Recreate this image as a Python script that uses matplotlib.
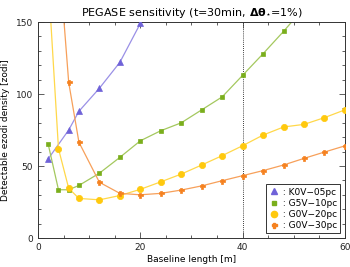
import matplotlib
matplotlib.use("Agg")
import matplotlib.pyplot as plt
from matplotlib.lines import Line2D
from matplotlib.ticker import MultipleLocator

plt.rcParams['font.family'] = ['DejaVu Sans']
plt.rcParams['mathtext.fontset'] = 'dejavusans'

# Data
k0v_x = [2, 6, 8, 12, 16, 20]
k0v_y = [55, 75, 88, 104, 122, 149]

g5v_x = [2, 4, 6, 8, 12, 16, 20, 24, 28, 32, 36, 40, 44, 48, 52]
g5v_y = [65, 33.5, 33.5, 36.5, 45, 56, 67.5, 74.5, 80, 89, 98, 113, 128, 143.5, 160]

g020_x = [2, 4, 6, 8, 12, 16, 20, 24, 28, 32, 36, 40, 44, 48, 52, 56, 60]
g020_y = [180, 62, 34.5, 27.5, 26.5, 29.5, 33.8, 39, 44.4, 50.7, 57.2, 64.1, 71.5, 77.1, 78.9, 83.6, 89]

g030_x = [4, 6, 8, 12, 16, 20, 24, 28, 32, 36, 40, 44, 48, 52, 56, 60]
g030_y = [200, 108, 66.5, 38.7, 31, 30, 31, 33.3, 36.2, 39.8, 43.3, 46.8, 50.7, 55.3, 59.7, 64]

labels = [' : K0V\u221205pc', ' : G5V\u221210pc', ' : G0V\u221220pc', ' : G0V\u221230pc']
colors = ['#6f62d8', '#7aae1c', '#ffc90e', '#f5811f']
line_colors = ['#9a90e6', '#a4c85e', '#ffd84a', '#f7a05a']
markers = ['^', 's', 'o', 'P']
msizes = [4, 3, 4.5, 3.6]

fig = plt.figure(figsize=(3.5, 2.67), dpi=100)
ax = fig.add_axes([0.1086, 0.1086, 0.877, 0.809])

series = [(k0v_x, k0v_y), (g5v_x, g5v_y), (g020_x, g020_y), (g030_x, g030_y)]
for (xs, ys), c, lc, m, ms in zip(series, colors, line_colors, markers, msizes):
    ax.plot(xs, ys, color=lc, lw=0.9, zorder=2)
    ax.plot(xs, ys, ls='none', marker=m, ms=ms, color=c, mec=c, mew=0.5, zorder=3)

ax.axvline(40, color='black', ls=(0, (1, 1.5)), lw=0.6, zorder=1)

ax.set_xlim(0, 60)
ax.set_ylim(0, 150)
ax.xaxis.set_major_locator(MultipleLocator(20))
ax.xaxis.set_minor_locator(MultipleLocator(5))
ax.yaxis.set_major_locator(MultipleLocator(50))
ax.yaxis.set_minor_locator(MultipleLocator(10))
ax.tick_params(which='both', direction='in', top=True, right=True, labelsize=6.5,
               color='#444444', width=0.6, labelcolor='#222222')
ax.tick_params(which='major', length=4)
ax.tick_params(which='minor', length=2.5)
for sp in ax.spines.values():
    sp.set_linewidth(0.7)
    sp.set_color('#333333')

ax.set_xlabel('Baseline length [m]', fontsize=6.5, labelpad=2)
ax.set_ylabel('Detectable ezodi density [zodi]', fontsize=6.5, labelpad=4)
ax.set_title(r'PEGASE sensitivity (t=30min, $\mathbf{\Delta\theta}_{\star}$=1%)', fontsize=8, pad=4)

handles = [Line2D([], [], ls='none', marker=m, ms=ms, color=c, mec=c)
           for c, m, ms in zip(colors, markers, msizes)]
leg = ax.legend(handles, labels, loc='lower right', fontsize=6.5, frameon=True,
                fancybox=False, edgecolor='black', handlelength=1.0,
                handletextpad=0.2, borderpad=0.35, labelspacing=0.25,
                borderaxespad=0.5)
leg.get_frame().set_linewidth(0.7)

fig.savefig('out.png', dpi=100)
